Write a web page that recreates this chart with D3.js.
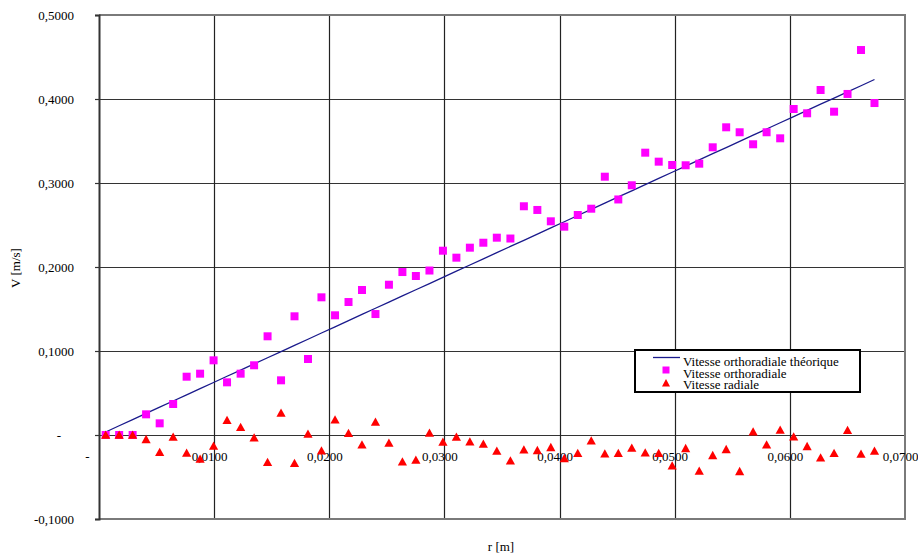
<!DOCTYPE html>
<html>
<head>
<meta charset="utf-8">
<script src="https://cdn.jsdelivr.net/npm/d3@7"></script>
<style>
  html, body { margin: 0; padding: 0; background: #fff; }
  svg { display: block; }
  text { font-family: "Liberation Serif", "Times New Roman", serif; fill: #000; }
</style>
</head>
<body>
<svg id="chart" width="918" height="559"></svg>
<script>
// ---- data ----
const rValues = [
  0.00058, 0.00175, 0.00292, 0.00409, 0.00527, 0.00644, 0.00761, 0.00878, 0.00995, 0.01112,
  0.01230, 0.01347, 0.01464, 0.01581, 0.01698, 0.01815, 0.01932, 0.02050, 0.02167, 0.02284,
  0.02401, 0.02518, 0.02635, 0.02752, 0.02870, 0.02987, 0.03104, 0.03221, 0.03338, 0.03455,
  0.03573, 0.03690, 0.03807, 0.03924, 0.04041, 0.04158, 0.04275, 0.04393, 0.04510, 0.04627,
  0.04744, 0.04861, 0.04978, 0.05095, 0.05213, 0.05330, 0.05447, 0.05564, 0.05681, 0.05798,
  0.05916, 0.06033, 0.06150, 0.06267, 0.06384, 0.06501, 0.06618, 0.06735
];
const vTheorique = [
  0.0036, 0.0110, 0.0183, 0.0257, 0.0331, 0.0405, 0.0478, 0.0552, 0.0625, 0.0699,
  0.0773, 0.0846, 0.0920, 0.0993, 0.1067, 0.1140, 0.1214, 0.1288, 0.1362, 0.1435,
  0.1509, 0.1582, 0.1656, 0.1729, 0.1803, 0.1877, 0.1950, 0.2024, 0.2097, 0.2171,
  0.2245, 0.2318, 0.2392, 0.2465, 0.2539, 0.2613, 0.2686, 0.2760, 0.2834, 0.2907,
  0.2981, 0.3054, 0.3128, 0.3201, 0.3275, 0.3349, 0.3422, 0.3496, 0.3569, 0.3643,
  0.3717, 0.3791, 0.3864, 0.3938, 0.4011, 0.4085, 0.4158, 0.4232
];
const vOrthoradiale = [
  0.0000, 0.0000, 0.0000, 0.0246, 0.0139, 0.0369, 0.0694, 0.0730, 0.0889, 0.0627,
  0.0730, 0.0830, 0.1175, 0.0651, 0.1413, 0.0905, 0.1639, 0.1425, 0.1583, 0.1726,
  0.1440, 0.1789, 0.1940, 0.1893, 0.1958, 0.2194, 0.2111, 0.2230, 0.2289, 0.2349,
  0.2339, 0.2723, 0.2679, 0.2544, 0.2480, 0.2619, 0.2694, 0.3075, 0.2804, 0.2973,
  0.3361, 0.3254, 0.3214, 0.3211, 0.3230, 0.3425, 0.3663, 0.3604, 0.3461, 0.3604,
  0.3532, 0.3881, 0.3830, 0.4107, 0.3849, 0.4060, 0.4583, 0.3952
];
const vRadiale = [
  0.0000, 0.0000, 0.0000, -0.0052, -0.0206, -0.0024, -0.0214, -0.0286, -0.0131, 0.0175,
  0.0092, -0.0032, -0.0325, 0.0262, -0.0335, 0.0012, -0.0187, 0.0183, 0.0020, -0.0115,
  0.0155, -0.0095, -0.0317, -0.0298, 0.0024, -0.0083, -0.0024, -0.0079, -0.0107, -0.0190,
  -0.0306, -0.0175, -0.0183, -0.0147, -0.0278, -0.0218, -0.0068, -0.0222, -0.0218, -0.0155,
  -0.0210, -0.0218, -0.0365, -0.0159, -0.0429, -0.0242, -0.0171, -0.0433, 0.0040, -0.0115,
  0.0060, -0.0020, -0.0135, -0.0270, -0.0218, 0.0056, -0.0226, -0.0190
];
const xTicks = [0, 0.01, 0.02, 0.03, 0.04, 0.05, 0.06, 0.07];
const yTicks = [-0.1, 0, 0.1, 0.2, 0.3, 0.4, 0.5];
const seriesNames = ["Vitesse orthoradiale théorique", "Vitesse orthoradiale", "Vitesse radiale"];
const xTitle = "r [m]";
const yTitle = "V [m/s]";

// ---- layout ----
const svg = d3.select("#chart");
const x = d3.scaleLinear().domain([0, 0.07]).range([99, 905]);
const y = d3.scaleLinear().domain([-0.1, 0.5]).range([519, 15]);
const fmt = v => Math.abs(v) < 1e-9 ? "-" : d3.format(".4f")(v).replace(".", ",").replace("−", "-");

// gridlines
const grid = svg.append("g");
grid.selectAll("line.h").data(yTicks.filter(v => v > -0.1 && v < 0.5)).join("line")
  .attr("x1", x(0)).attr("x2", x(0.07))
  .attr("y1", d => Math.round(y(d)) + 0.5).attr("y2", d => Math.round(y(d)) + 0.5)
  .attr("stroke", "#333").attr("stroke-width", 1.2);
grid.selectAll("line.v").data(xTicks.filter(v => v > 0 && v < 0.07)).join("line")
  .attr("x1", d => Math.round(x(d)) + 0.5).attr("x2", d => Math.round(x(d)) + 0.5)
  .attr("y1", y(0.5)).attr("y2", y(-0.1))
  .attr("stroke", "#222").attr("stroke-width", 1.2);

// frame (top, right, bottom gray)
svg.append("path")
  .attr("d", `M${x(0)},${y(0.5)}H${x(0.07)}V${y(-0.1)}H${x(0)}`)
  .attr("fill", "none").attr("stroke", "#7a7a7a").attr("stroke-width", 2);

// y axis
const yAxis = svg.append("g")
  .attr("transform", `translate(${x(0)},0)`)
  .call(d3.axisLeft(y).tickValues(yTicks).tickSize(4).tickPadding(21).tickFormat(fmt));
yAxis.select(".domain").attr("stroke", "#333").attr("stroke-width", 2);
yAxis.selectAll(".tick line").attr("stroke", "#333").attr("stroke-width", 1.2);
yAxis.selectAll(".tick text").attr("font-size", 13).attr("font-family", "Liberation Serif").attr("fill", "#000")
  .attr("dy", "0.36em")
  .attr("dx", d => Math.abs(d) < 1e-9 ? -13 : 0);

// x axis labels (along the zero line)
const xAxis = svg.append("g")
  .attr("transform", `translate(0,${y(0)})`)
  .call(d3.axisBottom(x).tickValues(xTicks).tickSize(0).tickPadding(17).tickFormat(fmt));
xAxis.select(".domain").remove();
xAxis.selectAll(".tick text").attr("font-size", 13).attr("font-family", "Liberation Serif").attr("fill", "#000")
  .attr("dx", d => Math.abs(d) < 1e-9 ? -12 : -5);

// axis titles
svg.append("text").attr("x", 501).attr("y", 551).attr("text-anchor", "middle")
  .attr("font-size", 13).text(xTitle);
svg.append("text").attr("transform", "translate(20,268) rotate(-90)").attr("text-anchor", "middle")
  .attr("font-size", 13).text(yTitle);

// theoretical line
const pts = rValues.map((r, i) => ({ r, vt: vTheorique[i], vo: vOrthoradiale[i], vr: vRadiale[i] }));
svg.append("path").datum(pts)
  .attr("d", d3.line().x(d => x(d.r)).y(d => y(d.vt)))
  .attr("fill", "none").attr("stroke", "#1a1a8c").attr("stroke-width", 1.3);

// markers
const squarePath = "M-4,-4H4V4H-4Z";
const triPath = "M0,-4.5L4.6,3.8L-4.6,3.8Z";
svg.append("g").selectAll("path").data(pts).join("path")
  .attr("d", squarePath)
  .attr("transform", d => `translate(${x(d.r)},${y(d.vo)})`)
  .attr("fill", "#ff00ff");
svg.append("g").selectAll("path").data(pts).join("path")
  .attr("d", triPath)
  .attr("transform", d => `translate(${x(d.r)},${y(d.vr)})`)
  .attr("fill", "#ff0000");

// legend
const lg = svg.append("g");
lg.append("rect").attr("x", 635).attr("y", 350).attr("width", 225).attr("height", 42)
  .attr("fill", "#fff").attr("stroke", "#000").attr("stroke-width", 2);
lg.append("line").attr("x1", 653).attr("x2", 680).attr("y1", 357.5).attr("y2", 357.5)
  .attr("stroke", "#1a1a8c").attr("stroke-width", 1.3);
lg.append("path").attr("d", "M-3.5,-3.5H3.5V3.5H-3.5Z").attr("transform", "translate(666,370)").attr("fill", "#ff00ff");
lg.append("path").attr("d", "M0,-4L4,3.5L-4,3.5Z").attr("transform", "translate(666,383)").attr("fill", "#ff0000");
const legendY = [366, 377.5, 389];
lg.selectAll("text").data(seriesNames).join("text")
  .attr("x", 683).attr("y", (d, i) => legendY[i]).attr("font-size", 13).text(d => d);
</script>
</body>
</html>
